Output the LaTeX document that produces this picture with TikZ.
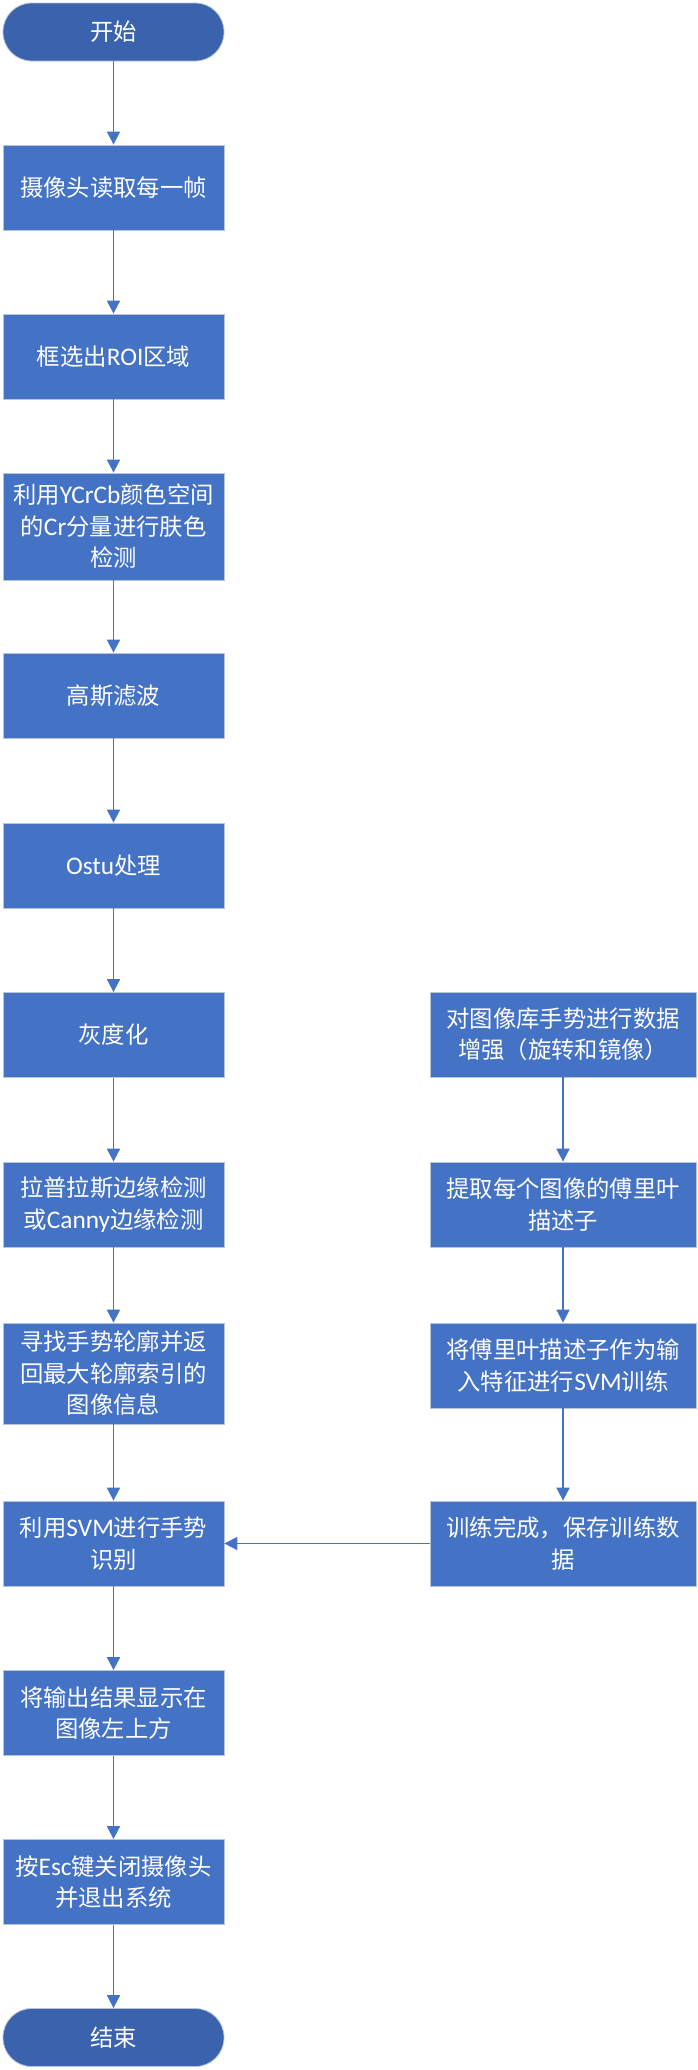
\documentclass[tikz,border=0pt]{standalone}
\usepackage{fontspec}
\setmainfont{Noto Sans CJK SC}
\newfontfamily\latfont{Carlito}
\usepackage{xcolor}
\usetikzlibrary{arrows.meta}
\definecolor{boxblue}{HTML}{4472C4}
\definecolor{termblue}{HTML}{3B63AD}
\definecolor{boxedge}{HTML}{B9C4DA}
\newcommand{\lat}[1]{{\latfont\fontsize{19pt}{23.6pt}\selectfont #1}}

\begin{document}
\begin{tikzpicture}[x=0.75pt,y=0.75pt,yscale=-1,xscale=1,
  procbox/.style={rectangle, fill=boxblue, draw=boxedge, line width=0.6pt, text=white,
    minimum width=165.75pt, minimum height=63.75pt, align=center, inner sep=0pt,
    font=\fontsize{17.5pt}{23.6pt}\selectfont},
  sidebox/.style={procbox, minimum width=199.5pt},
  termbox/.style={procbox, fill=termblue, rounded corners=21.5pt, minimum height=43.5pt},
  flowarr/.style={draw=boxblue, line width=1.3pt, -{Triangle[length=9.75pt,width=9.75pt]}}]
\useasboundingbox (0,0) rectangle (697,2070);

%Shape: Terminal [id:start]
\node [termbox] (start) at (113.5,32) {开始};
%Shape: Rectangle [id:left column]
\node [procbox] (camera) at (113.5,187.5) {摄像头读取每一帧};
\node [procbox] (roi) at (113.5,356.5) {框选出\lat{ROI}区域};
\node [procbox, minimum height=80.25pt] (skin) at (113.5,526.5) {利用\lat{YCrCb}颜色空间\\的\lat{Cr}分量进行肤色\\检测};
\node [procbox] (gauss) at (113.5,695.5) {高斯滤波};
\node [procbox] (ostu) at (113.5,865.5) {\lat{Ostu}处理};
\node [procbox] (gray) at (113.5,1035) {灰度化};
\node [procbox] (edge) at (113.5,1204.5) {拉普拉斯边缘检测\\或\lat{Canny}边缘检测};
\node [procbox, minimum height=75.75pt] (contour) at (113.5,1373.5) {寻找手势轮廓并返\\回最大轮廓索引的\\图像信息};
\node [procbox] (recog) at (113.5,1543.5) {利用\lat{SVM}进行手势\\识别};
\node [procbox] (show) at (113.5,1713) {将输出结果显示在\\图像左上方};
\node [procbox] (quit) at (113.5,1882) {按\lat{Esc}键关闭摄像头\\并退出系统};
%Shape: Terminal [id:end]
\node [termbox] (stop) at (113.5,2037.5) {结束};

%Shape: Rectangle [id:right column]
\node [sidebox] (augment) at (563,1034.5) {对图像库手势进行数据\\增强（旋转和镜像）};
\node [sidebox] (fourier) at (563,1204.5) {提取每个图像的傅里叶\\描述子};
\node [sidebox] (train) at (563,1365.5) {将傅里叶描述子作为输\\入特征进行\lat{SVM}训练};
\node [sidebox] (save) at (563,1543.5) {训练完成，保存训练数\\据};

%Straight Lines
\draw [flowarr] (start) -- (camera);
\draw [flowarr] (camera) -- (roi);
\draw [flowarr] (roi) -- (skin);
\draw [flowarr] (skin) -- (gauss);
\draw [flowarr] (gauss) -- (ostu);
\draw [flowarr] (ostu) -- (gray);
\draw [flowarr] (gray) -- (edge);
\draw [flowarr] (edge) -- (contour);
\draw [flowarr] (contour) -- (recog);
\draw [flowarr] (recog) -- (show);
\draw [flowarr] (show) -- (quit);
\draw [flowarr] (quit) -- (stop);
\draw [flowarr] (augment) -- (fourier);
\draw [flowarr] (fourier) -- (train);
\draw [flowarr] (train) -- (save);
\draw [flowarr] (save) -- (recog);

\end{tikzpicture}
\end{document}
